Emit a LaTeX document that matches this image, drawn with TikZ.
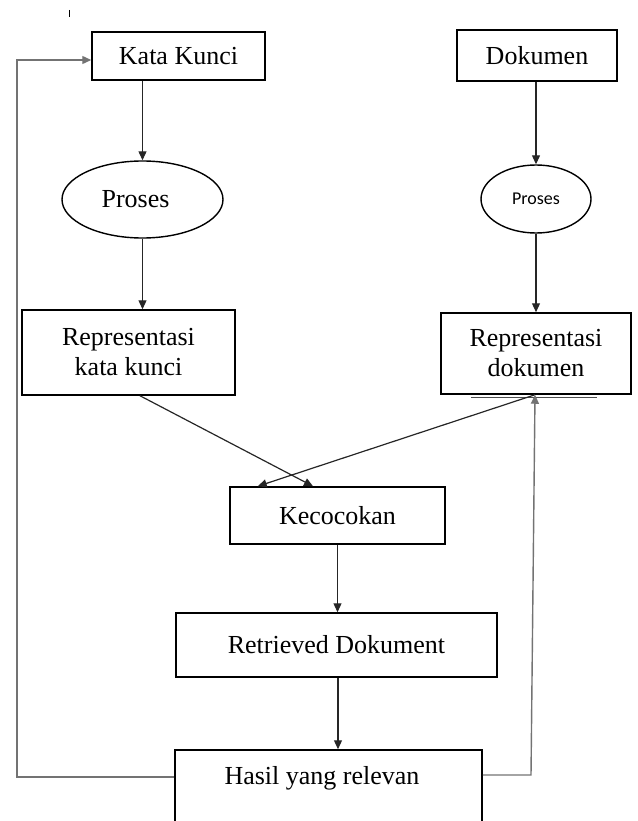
\documentclass[tikz,border=0pt]{standalone}
\usepackage{fontspec}
\setmainfont{Liberation Serif}
\newfontfamily\carl{Carlito}
\usetikzlibrary{arrows.meta,shapes.geometric}
\begin{document}
\begin{tikzpicture}[x=1pt,y=-1pt,
  box/.style={draw=black,line width=1.5pt,rectangle,inner sep=0pt,
    font=\fontsize{26}{30}\selectfont,align=center},
  oval/.style={draw=black,line width=1.4pt,ellipse,inner sep=0pt},
  arr/.style={draw=black!85,line width=1.2pt,-{Triangle[length=9pt,width=8pt]}},
  fb/.style={draw=black!55,line width=1.4pt},
  fbarr/.style={fb,-{Triangle[length=9pt,width=8pt]}}]
\useasboundingbox (0,0) rectangle (637,821);
\clip (0,0) rectangle (637,821);
% small tick
\draw[line width=1pt] (69,10) -- (69,17);
% nodes
\node[box,minimum width=173pt,minimum height=48pt] (kk) at (178.5,56) {Kata Kunci};
\node[box,minimum width=160pt,minimum height=51pt] (dok) at (537,55.5) {Dokumen};
\node[oval,minimum width=161pt,minimum height=77pt,font=\fontsize{26}{30}\selectfont] (pl) at (142.5,199.5) {Proses\hspace*{14pt}};
\node[oval,minimum width=110pt,minimum height=68pt,font=\carl\fontsize{18}{20}\selectfont] (pr) at (536,199) {Proses};
\node[box,minimum width=213pt,minimum height=85pt] (rkk) at (128.5,352.5) {Representasi\\kata kunci};
\node[box,minimum width=190pt,minimum height=81pt] (rdok) at (536,353.5) {Representasi\\dokumen};
\node[box,minimum width=215pt,minimum height=57pt] (kec) at (337.5,515.5) {Kecocokan};
\node[box,minimum width=321pt,minimum height=64pt] (ret) at (336.5,645) {Retrieved Dokument};
\node[box,minimum width=307pt,minimum height=90pt] (has) at (328.5,795) {};
\node[font=\fontsize{26}{30}\selectfont,inner sep=0pt] (hastxt) at (322,778) {Hasil yang relevan};
% artifacts (double bottom edges)
\draw[line width=1.2pt] ([yshift=1pt]kk.south west) -- ++(111,0);
\draw[black!70,line width=1.2pt] ([shift={(31,2.5)}]rdok.south west) -- ++(126,0);
% connectors
\draw[arr] (pl.north |- kk.south) -- (pl.north);
\draw[arr] (pl.south) -- (pl.south |- rkk.north);
\draw[arr] (pr.north |- dok.south) -- (pr.north);
\draw[arr] (pr.south) -- (pr.south |- rdok.north);
\coordinate (a1) at ([xshift=11.5pt]rkk.south);
\coordinate (a2) at ([xshift=-24.5pt]kec.north);
\draw[arr] (a1) -- (a2);
\coordinate (b1) at ([xshift=-1pt]rdok.south);
\coordinate (b2) at ([xshift=28.5pt]kec.north west);
\draw[arr] (b1) -- (b2);
\draw[arr] (kec.south) -- (kec.south |- ret.north);
\coordinate (c1) at ([xshift=1.5pt]ret.south);
\draw[arr] (c1) -- (c1 |- has.north);
% feedback loops
\coordinate (l1) at (17,777);
\coordinate (l2) at (17,60);
\draw[fbarr] (has.west |- l1) -- (l1) -- (l2) -- (kk.west |- l2);
\coordinate (r1) at (531,775);
\draw[fbarr] (has.east |- r1) -- (r1) -- (b1);
\end{tikzpicture}
\end{document}
